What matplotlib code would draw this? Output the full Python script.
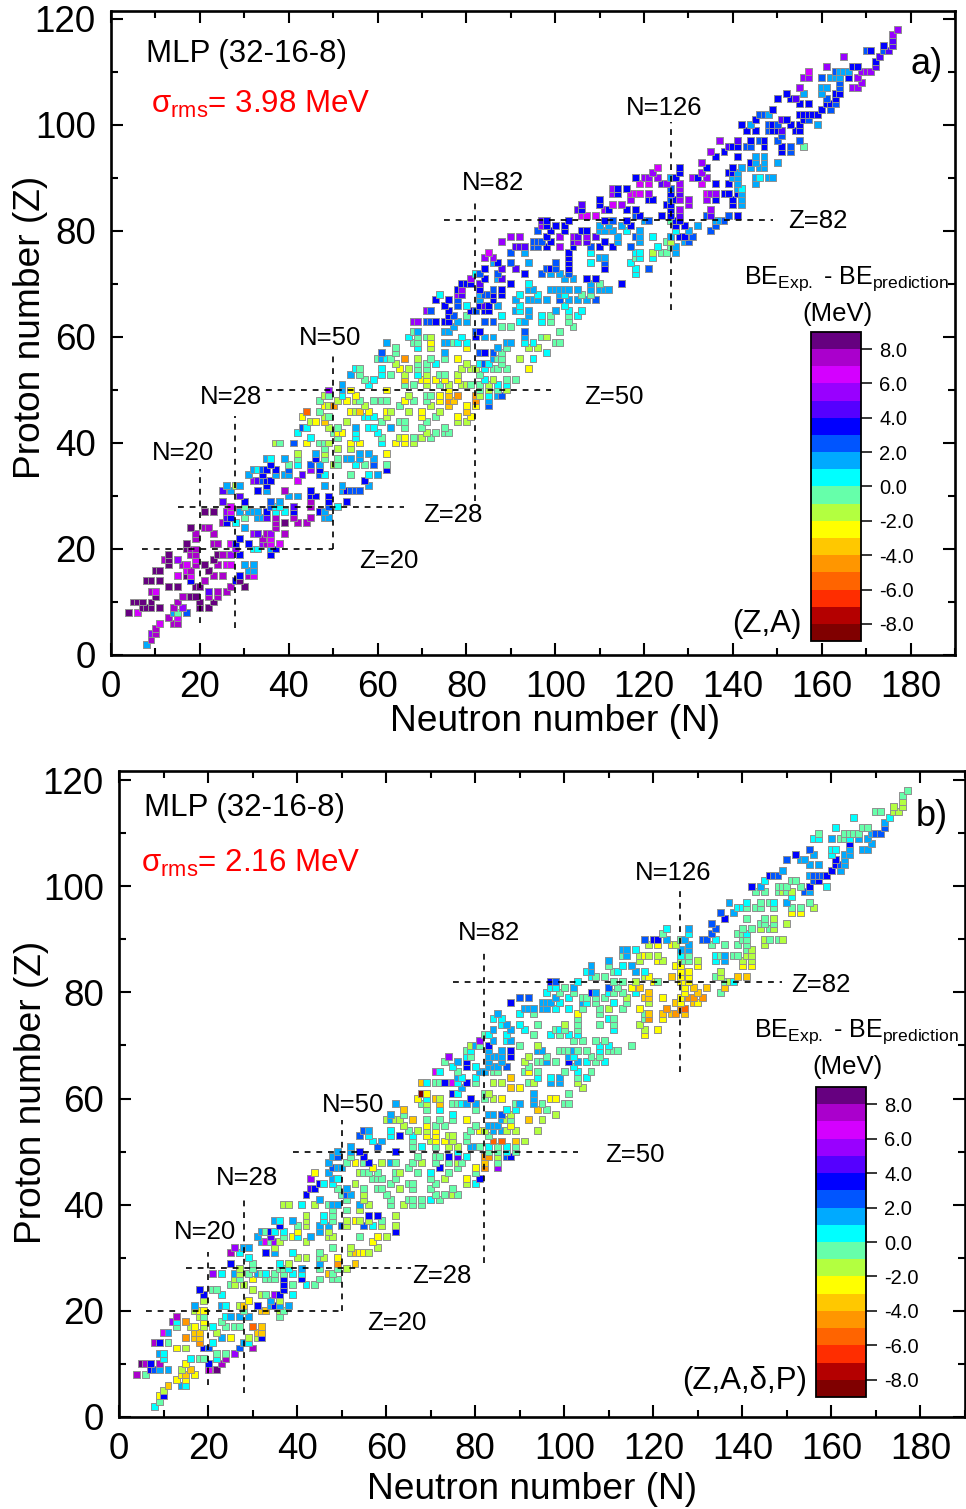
import matplotlib as mpl
mpl.use("Agg")
import matplotlib.pyplot as plt
from matplotlib.cm import ScalarMappable
from matplotlib.colors import BoundaryNorm, ListedColormap
from matplotlib.ticker import MultipleLocator

plt.rcParams['font.family'] = ['Liberation Sans', 'DejaVu Sans']
plt.rcParams['mathtext.fontset'] = 'custom'
plt.rcParams['mathtext.rm'] = 'Liberation Sans'
plt.rcParams['mathtext.it'] = 'Liberation Sans'
plt.rcParams['axes.unicode_minus'] = False

# neutron numbers of the plotted nuclei, one list per proton number
N_by_Z = {
    2: [8], 3: [9], 4: [9, 10], 5: [10], 6: [11, 14, 15], 7: [13, 15], 8: [4, 6, 14, 15, 17],
    9: [7, 8, 9, 11, 14, 16, 20, 22], 10: [5, 6, 7, 9, 15, 20, 23], 11: [10, 16, 18, 19, 22, 24],
    12: [9, 10, 22, 24, 26], 13: [13, 15, 19, 20, 27, 30], 14: [8, 9, 11, 18, 21, 28, 29],
    15: [15, 17, 18, 23, 25, 29, 31, 32], 16: [10, 11, 17, 18, 22, 31, 32],
    17: [13, 16, 17, 19, 21, 24, 26, 27, 30, 32], 18: [12, 13, 15, 19, 23],
    19: [13, 18, 19, 24, 25, 27, 29, 36], 20: [17, 18, 19, 28, 32, 33, 36, 37],
    21: [17, 23, 24, 27, 28, 31, 34, 35, 36, 38], 22: [19, 29, 34, 36],
    23: [19, 23, 32, 33, 35, 36, 39], 24: [18, 21, 22, 30, 37], 25: [25, 26, 28, 37, 39, 42, 44],
    26: [26, 27, 30, 33, 34, 35, 37, 41, 45, 48, 49],
    27: [21, 23, 26, 27, 29, 31, 32, 33, 35, 37, 39, 41, 47, 48],
    28: [27, 30, 36, 37, 38, 41, 45, 49, 51], 29: [25, 30, 36, 38, 45, 49, 53],
    30: [29, 40, 42, 45, 46, 49], 31: [25, 27, 33, 35, 39, 45, 52, 53, 54, 55, 56],
    32: [26, 28, 29, 35, 48, 52, 58], 33: [32, 33, 34, 35, 36, 42, 57],
    34: [31, 34, 37, 39, 40, 43, 47, 48, 54, 58, 60], 35: [32, 33, 34, 35, 37, 40, 45, 47, 62],
    36: [36, 40, 42, 45, 47, 50, 51, 55, 57, 59, 62], 37: [35, 36, 39, 42, 46, 48, 51, 53, 54, 56, 59],
    38: [42, 46, 48, 56, 58, 62], 39: [48, 51, 54], 40: [37, 38, 41, 44, 47, 48, 49, 54, 56, 61, 64, 66, 68],
    41: [45, 51, 55, 61, 65, 66, 68, 70, 72], 42: [42, 50, 51, 52, 55, 60, 71, 73, 75, 76],
    43: [43, 44, 49, 51, 55, 58, 59, 63, 66, 70, 75], 44: [45, 46, 48, 53, 61, 65, 66, 71, 78, 80],
    45: [43, 48, 49, 57, 58, 59, 62, 70, 73, 78, 81], 46: [44, 47, 54, 55, 56, 58, 62, 63, 67, 70, 74, 80],
    47: [48, 49, 50, 57, 65, 72, 76, 80, 82, 85],
    48: [47, 51, 53, 55, 56, 59, 61, 62, 66, 68, 71, 74, 76, 77, 82, 85],
    49: [48, 49, 52, 55, 67, 71, 72, 74, 76, 78, 82, 83, 85, 87, 88], 50: [49, 52, 54, 62, 76, 83, 85, 87, 89],
    51: [52, 58, 66, 68, 71, 74, 76, 79, 80, 81, 83, 85, 87, 89],
    52: [57, 59, 66, 70, 71, 73, 75, 78, 84, 86, 89, 91], 53: [54, 56, 61, 63, 66, 69, 71, 74, 75, 78, 83],
    54: [55, 56, 61, 65, 67, 69, 71, 79, 81, 82, 84, 86, 87, 89, 94], 55: [64, 69, 71, 73, 80, 83, 84, 85, 88],
    56: [60, 61, 62, 63, 66, 69, 72, 75, 78, 86, 87, 88, 92, 95], 57: [61, 64, 75, 83, 84, 86, 88, 98],
    58: [64, 69, 72, 80, 87, 89, 94, 96], 59: [62, 68, 69, 72, 75, 76, 77, 78, 80, 89, 90, 93, 95, 100, 101],
    60: [67, 69, 71, 72, 79, 82, 84, 86, 93, 97, 98], 61: [68, 69, 75, 76, 82, 83, 93, 101],
    62: [77, 88, 90, 104], 63: [68, 69, 71, 72, 73, 75, 76, 78, 80, 84, 86, 92, 93, 97, 99, 103],
    64: [76, 77, 80, 88, 94, 97, 99, 103, 105], 65: [71, 72, 76, 81, 82, 84, 85, 91, 92, 94, 100, 103, 106],
    66: [75, 78, 80, 83, 84, 85, 87, 92, 102],
    67: [73, 76, 78, 83, 86, 91, 94, 95, 96, 98, 101, 103, 105, 107, 109],
    68: [74, 78, 79, 83, 84, 85, 86, 88, 92, 96, 101, 102, 106, 108],
    69: [78, 79, 83, 86, 88, 94, 95, 99, 100, 101, 102, 103, 105, 108, 110, 111, 112],
    70: [79, 80, 81, 83, 90, 94, 108, 110, 115], 71: [81, 84, 87, 88, 102, 104, 107, 109],
    72: [82, 83, 87, 93, 97, 99, 101, 103, 118], 73: [84, 88, 91, 98, 99, 100, 103, 111, 118, 121],
    74: [86, 87, 90, 94, 100, 103, 108, 111, 117], 75: [84, 86, 103, 110, 111, 118, 119, 122],
    76: [85, 90, 93, 103, 108, 118, 119, 122, 124, 125, 127],
    77: [91, 92, 93, 95, 96, 98, 101, 104, 108, 110, 113, 117, 123, 126, 127],
    78: [88, 95, 96, 97, 99, 104, 105, 107, 111, 114, 119, 125, 126, 129, 130],
    79: [90, 92, 98, 101, 104, 105, 107, 109, 114, 118, 119, 122, 126, 128, 129, 131],
    80: [96, 99, 102, 106, 107, 110, 111, 113, 116, 119, 127, 130, 135],
    81: [97, 98, 100, 102, 110, 112, 115, 117, 127, 129, 132, 136],
    82: [97, 98, 103, 111, 113, 116, 120, 121, 126, 127, 128, 136, 137, 138],
    83: [106, 107, 109, 118, 119, 124, 126, 128, 134, 135, 139, 141],
    84: [105, 106, 111, 112, 116, 118, 126, 128, 135], 85: [106, 110, 113, 115, 125, 126, 130, 140, 142],
    86: [110, 117, 121, 122, 126, 127, 128, 130, 134, 136, 140, 142],
    87: [113, 114, 117, 118, 119, 121, 126, 128, 134, 135, 136, 138, 139, 141, 142],
    88: [113, 114, 116, 126, 128, 141, 142], 89: [119, 121, 124, 125, 128, 133, 136, 139, 141, 145],
    90: [118, 120, 121, 123, 126, 127, 131, 132, 134, 140, 141, 145, 146, 148, 149],
    91: [122, 128, 133, 139, 140, 141], 92: [123, 128, 134, 140, 142, 144, 146, 147],
    93: [133, 144, 145, 147, 150], 94: [136, 141, 145, 147], 95: [135, 138, 151, 153],
    96: [139, 140, 141, 143, 144, 147, 151, 153, 156], 97: [137, 141, 144, 146, 147, 150, 155], 98: [151],
    99: [143, 145, 148, 149, 150, 151, 154, 155], 100: [142, 144, 148, 149, 150, 153, 155, 159],
    101: [145, 151, 152, 156, 157], 102: [146, 147, 148, 155, 156, 157, 158, 159], 103: [149, 160, 162],
    104: [155, 157, 161, 162, 163], 105: [150, 153, 154, 161, 163], 106: [152, 156, 160, 163, 164],
    107: [155, 160, 161, 164, 167, 168], 108: [164, 169], 109: [156, 157, 160, 162, 163, 164, 166, 168],
    110: [157, 163, 164, 165, 166, 169, 170, 171], 111: [161, 167, 168, 172], 112: [172], 113: [165, 173],
    114: [170, 171, 174, 175], 115: [174, 176], 116: [176], 117: [176], 118: [177],
}

# BE_exp - BE_prediction (MeV), read as the colour band each square falls in
BE_a_by_Z = {
    2: [1], 3: [7], 4: [5, 7], 5: [7], 6: [6, 7, 7], 7: [7, 6], 8: [8, 6, 1, -1, 2],
    9: [8, 8, 8, 8, 7, 5, 8, 8], 10: [8, 8, 8, 8, 7, 8, 8], 11: [8, 7, 8, 8, 7, 7],
    12: [7, 6, 4, 7, 7], 13: [8, 8, 8, 8, 7, 8], 14: [8, 8, 8, 3, 7, 3, 8],
    15: [6, 8, 6, 7, 7, 3, 7, 6], 16: [8, 8, 6, 7, 8, 1, 1],
    17: [8, 7, 6, 7, 8, 7, 6, 6, 1, 1], 18: [7, 8, 5, 6, 8],
    19: [8, 7, 7, 8, 7, 5, 3, 3], 20: [8, 7, 7, 5, 0, 0, 1, 3],
    21: [8, 7, 7, 6, 3, 3, 5, 7, 6, 6], 22: [7, 3, 7, 6],
    23: [7, 7, 5, 4, 7, 5, 7], 24: [8, 7, 7, 1, 7], 25: [7, 3, 0, 7, 8, 7, 7],
    26: [4, 3, -1, 1, 1, 4, 7, 7, 7, 1, 1],
    27: [8, 8, 5, 6, 1, 1, 1, 1, 3, 0, 0, 3, 3, 1],
    28: [6, -1, 2, 0, 0, 4, 7, 2, 0], 29: [4, 3, 2, 1, 7, 3, 3],
    30: [4, 1, 1, 3, 3, 3], 31: [4, 1, 3, 1, 7, 3, 1, 3, 2, 2, 2],
    32: [1, -2, 1, 3, 1, 1, 1], 33: [5, 4, 2, 3, 3, 6, 3],
    34: [1, 3, 1, 1, 1, 4, 2, 0, -1, 0, 1], 35: [1, 0, 2, 3, 3, 2, 5, 3, 3],
    36: [3, -1, 0, 2, 1, -2, -1, 0, -1, 2, -1], 37: [1, 0, 1, -1, 3, -1, -1, 1, 1, 1, 1],
    38: [-2, 1, -2, 1, 1, -3], 39: [-1, -2, -2], 40: [-2, -1, 2, -3, -1, -1, -2, -3, -3, 0, -3, -3, -2],
    41: [0, -1, 0, -1, -2, -3, -1, -2, -1], 42: [0, -1, -3, -3, 0, 0, -2, -1, -1, -1],
    43: [2, 0, -2, -1, 1, 0, 0, 1, -1, -1, -1], 44: [-2, -3, -4, -2, -1, -1, -1, -1, -2, -2],
    45: [-3, -2, -1, 0, 0, 0, -2, -3, -1, -3, -3], 46: [-6, -1, -3, -2, -4, -3, -3, -2, -2, -3, -2, -4],
    47: [-3, -2, -5, -2, -1, -2, -4, -3, -3, 2],
    48: [-1, -2, -3, -2, -1, -1, -1, -1, -3, -1, -1, -3, -5, -4, -5, 1],
    49: [-2, -1, 0, -3, -2, -1, -1, -3, -4, -5, -5, -2, 0, 1, 2], 50: [5, 1, -3, -3, -3, -1, -2, -1, -2],
    51: [1, 0, -1, -1, -2, -1, -2, -2, -2, -1, -1, -2, 0, 0],
    52: [-1, 0, -4, -3, -3, -3, -3, -3, 0, -2, -1, -1], 53: [1, -1, 0, -1, -2, 0, -2, -1, -1, -2, -1],
    54: [0, -1, 0, -3, -2, -1, -1, -2, -2, -2, 0, -1, -1, -1, -3], 55: [-2, -1, -1, 0, -2, 0, 2, 0, -1],
    56: [-1, 1, 0, -1, -5, -2, -1, -1, -3, 1, -1, -1, -2, 0], 57: [2, -1, 1, 2, 3, 2, -1, 0],
    58: [-1, 0, -2, -3, 1, -1, -2, -2], 59: [1, -1, -1, -3, 1, 1, -1, 0, 0, 1, 1, 0, 0, -1, -1],
    60: [0, -1, -1, -2, 0, 3, 1, 1, 1, -1, -2], 61: [-1, 1, 1, 1, 2, 3, 2, -1],
    62: [1, -1, -1, -1], 63: [5, 5, 2, 2, 3, 3, 3, 1, 1, 2, 2, 0, 1, 0, -1, -1],
    64: [3, 2, -1, 0, 1, 0, -1, -1, 0], 65: [5, 2, 3, 3, 2, 3, 3, 1, 0, 1, 1, 0, 0],
    66: [3, 2, 0, 3, 4, 3, 1, 0, 0],
    67: [3, 3, 2, 1, 3, 1, 1, 1, 1, 1, 2, 1, 1, 1, 2],
    68: [0, 5, 4, 1, 2, 2, 3, 3, 0, 0, 1, 0, -1, -1],
    69: [3, 5, 3, 2, 3, 1, 1, 1, 1, 1, 1, 1, 1, 1, 1, 1, 1],
    70: [3, 3, 3, 4, 3, 0, 1, -1, 3], 71: [5, 3, 1, 4, 1, 1, 3, 3],
    72: [0, 2, 2, 3, 2, 1, 1, 2, 0], 73: [3, 4, 4, 2, 3, 2, 3, 3, 0, 2],
    74: [1, 3, 2, 1, 2, 3, 0, 2, 0], 75: [5, 5, 3, 1, 1, -1, 0, 0],
    76: [6, 2, 1, 3, 0, 0, 0, -2, -1, -1, 1],
    77: [4, 4, 4, 2, 2, 3, 5, 3, 2, 3, 3, 2, 0, -1, 1],
    78: [5, 2, 2, 2, 3, 4, 5, 4, 3, 1, 1, -1, -2, 1, 2],
    79: [5, 5, 3, 5, 5, 4, 5, 4, 1, 2, 1, 0, 1, 3, 3, 2],
    80: [2, 3, 3, 3, 3, 1, 1, 1, 0, 1, 0, 1, 2],
    81: [5, 3, 3, 3, 1, 1, 1, 3, 3, 3, 1, 2],
    82: [4, 3, 3, 3, 2, 3, 1, 2, -1, 3, 3, 1, 1, 2],
    83: [6, 6, 6, 2, 3, 3, 3, 4, 2, 4, 2, 3],
    84: [4, 3, 5, 3, 3, 3, 3, 5, 5], 85: [4, 3, 6, 5, 3, 3, 5, 3, 1],
    86: [3, 5, 3, 3, 2, 3, 5, 5, 5, 3, 3, 1],
    87: [5, 3, 6, 6, 6, 5, 3, 4, 6, 5, 5, 3, 3, 3, 1],
    88: [5, 3, 3, 2, 5, 1, 0], 89: [6, 6, 4, 5, 5, 6, 3, 3, 1, 1],
    90: [3, 5, 5, 5, 1, 3, 5, 3, 5, 1, 1, 1, 0, 1, 1],
    91: [5, 3, 5, 3, 3, 1], 92: [6, 3, 3, 3, 1, 1, 1, 1],
    93: [5, 3, 1, 1, 1], 94: [3, 3, 1, 1], 95: [5, 3, 3, 2],
    96: [4, 3, 3, 2, 2, 3, 3, 2, -1], 97: [5, 4, 3, 2, 3, 2, 2], 98: [2],
    99: [3, 3, 2, 3, 3, 4, 3, 3], 100: [3, 1, 2, 3, 2, 3, 3, 1],
    101: [3, 4, 3, 3, 2], 102: [2, 2, 1, 3, 3, 3, 3, 3], 103: [3, 3, 2],
    104: [3, 3, 3, 3, 2], 105: [3, 3, 4, 2, 3], 106: [3, 1, 1, 3, 3],
    107: [5, 1, 1, 2, 5, 5], 108: [2, 5], 109: [5, 5, 2, 1, 1, 1, 3, 5],
    110: [6, 2, 1, 1, 1, 5, 5, 5], 111: [5, 3, 3, 4], 112: [3], 113: [5, 4],
    114: [2, 3, 2, 4], 115: [3, 4], 116: [4], 117: [5], 118: [5],
}

BE_b_by_Z = {
    2: [0], 3: [-1], 4: [-3, 3], 5: [-2], 6: [-4, 1, 0], 7: [-3, -3], 8: [7, -1, -3, -4, -3],
    9: [3, 2, 1, 1, -2, -4, 6, 8], 10: [8, 7, 3, 7, -3, 3, 7], 11: [0, 0, -1, -1, 0, 7],
    12: [1, 0, -1, -1, 5], 13: [-3, -2, 3, 2, 2, 7], 14: [7, 3, -1, -5, 0, 1, 0],
    15: [-5, -4, -4, 1, -3, -2, -2, 3], 16: [6, 1, -4, -4, -2, -4, -4],
    17: [-1, -2, -3, -2, 0, -1, -1, -1, -6, -4], 18: [5, 0, -5, -3, -1],
    19: [7, -2, -1, 0, 1, 1, 1, -1], 20: [-2, -3, -3, -1, -4, -4, -2, -1],
    21: [1, 1, 0, -2, -4, 3, 1, 3, 1, 1], 22: [-2, -3, 1, -2],
    23: [3, 0, -2, -1, 5, 3, 0], 24: [3, -1, -1, -2, 3], 25: [-1, -2, -2, 3, -1, 0, -1],
    26: [-2, -1, -3, -1, -1, -1, 3, 3, -1, -1, -1],
    27: [5, 0, 1, -2, -1, 1, -1, 0, -1, -1, 0, 0, -4, -1],
    28: [-2, -1, -1, -1, 0, 1, -1, -1, -2], 29: [3, -1, 0, -2, 1, -5, -4],
    30: [0, -2, -2, -1, -2, -3], 31: [7, 0, 3, 1, 0, -1, -2, -4, -3, -3, -2],
    32: [5, 1, 1, -2, -1, -2, -2], 33: [1, 6, -1, 5, -2, -2, -3],
    34: [1, 4, -1, -3, 0, 1, -2, -2, -1, -3, -2], 35: [1, -1, 3, 0, 0, -3, 1, -2, 3],
    36: [3, -1, -2, 1, 1, 2, -2, 2, 0, -2, -2], 37: [1, 0, 1, -2, 0, -1, -2, -3, -2, -2, -1],
    38: [-2, 0, -1, 3, 3, -2], 39: [-1, -1, -2], 40: [-2, -2, 0, -2, -1, 1, 1, 1, -2, -1, -2, -1, -1],
    41: [1, -1, -2, -1, -1, -1, -1, 0, -1], 42: [3, -1, 2, 1, -2, -1, -1, -1, -2, -1],
    43: [4, 3, -1, 1, -1, -1, -1, -2, -1, -1, -1], 44: [3, 0, 0, -2, -1, -1, -1, -1, -2, 0],
    45: [5, 1, 0, -1, -1, -1, -1, -1, -2, -3, 3], 46: [-3, 1, -2, -1, -1, -1, -1, -2, -1, 0, -1, -1],
    47: [2, 1, 1, -3, -1, 3, -1, -3, -5, 5],
    48: [1, -1, -3, -1, 3, -2, 1, -1, -1, -2, -1, -1, -2, -1, -4, -1],
    49: [1, 2, -1, 3, -1, -1, -1, 3, 4, 0, -5, -5, -2, 2, 3], 50: [1, 1, 3, 3, 0, -1, -1, 0, -1],
    51: [1, 2, -1, 0, -1, -2, -2, 1, 1, -1, 0, -1, 0, -1],
    52: [0, 1, -1, -2, -3, -3, -2, -1, -6, -6, -4, -2], 53: [2, 0, 0, 3, 0, -3, -3, -2, -2, -1, -1],
    54: [2, 1, 0, -1, -2, -2, -3, -1, -3, -2, 1, 1, -2, -2, -2], 55: [-2, -3, -1, -1, -1, 1, 1, 1, -3],
    56: [-2, 1, -2, -2, -4, -1, -1, -1, -3, 1, -2, -1, -4, -2], 57: [1, -1, 0, 1, 1, 2, -2, -2],
    58: [-4, -1, 0, -1, 0, 0, -4, -1], 59: [1, -1, -2, -4, -1, -1, 0, 1, 1, -1, 1, 1, -1, -1, -1],
    60: [-3, 0, -4, -2, 3, -1, -2, -3, 1, -3, -3], 61: [-9, -3, 3, 0, -1, -2, 1, -1],
    62: [1, -4, -3, -2], 63: [-4, 0, -1, -1, 3, 6, 0, 3, -1, -2, -2, -1, -2, 1, 1, -2],
    64: [1, 0, 0, -4, 0, 0, 1, -1, 0], 65: [6, 0, -1, 1, 1, -1, -1, -1, -3, -1, -1, 0, -1],
    66: [0, 3, 0, 1, 1, 1, 2, -1, 0],
    67: [-1, 1, 3, 1, 1, -2, -1, -1, 1, -1, 3, 1, 0, -1, 0],
    68: [5, 0, -1, 1, 1, 1, 1, 3, -2, -1, 1, 0, -1, -1],
    69: [-1, 0, 1, 1, 3, 1, 1, -1, -1, -1, 1, -1, -1, 0, -1, -1, -1],
    70: [-2, 1, -1, 3, -1, -2, 0, 0, -1], 71: [5, 1, 0, 1, -1, -1, -1, -1],
    72: [-1, 0, 0, -1, 0, -1, 0, 0, -3], 73: [1, 1, 0, -1, 0, -1, -1, 0, -2, -3],
    74: [0, 1, 0, -1, -2, -1, -1, -1, -2], 75: [0, 0, -1, 0, -1, -1, -5, -3],
    76: [1, 0, -1, -3, -1, -1, -4, -4, -4, -5, -4],
    77: [1, 1, 1, 1, 1, 0, 0, -1, -1, -2, -1, -3, -5, -5, -6],
    78: [3, 1, 1, 1, 0, 1, 0, -1, 0, -1, -2, -4, -3, -4, -3],
    79: [2, 2, 1, 0, -1, -1, -1, -1, -2, -4, -4, -3, -3, -5, -5, -5],
    80: [0, -1, -1, 3, 1, 0, -1, -1, 0, -4, -3, -4, -1],
    81: [0, 0, -1, 1, 2, -1, -3, -4, -3, -4, -4, -4],
    82: [3, 2, 0, -1, -1, -2, -3, -1, -3, -3, -3, -1, -2, 0],
    83: [0, -1, -1, -2, -3, -4, -3, -3, -1, -2, -4, -4],
    84: [0, 1, -1, 0, 1, 0, -3, -3, -2], 85: [1, -1, 0, 1, -3, -3, -3, -3, -3],
    86: [1, -2, -3, -2, -2, -1, -1, -2, 0, 1, -2, -2],
    87: [-1, 1, -2, -3, -2, -2, 0, -1, 0, -1, 1, -1, -1, -2, -2],
    88: [1, 1, 0, 1, 1, -1, -2], 89: [-2, -3, -3, -2, 1, -1, -1, -1, -1, -2],
    90: [2, 3, 3, 1, -1, 1, 2, 2, 0, -1, -1, -2, -1, -1, -2],
    91: [-1, 0, 2, -1, -1, 0], 92: [0, 1, 2, -1, -1, -2, -1, -2],
    93: [2, -1, -1, -1, -2], 94: [3, -1, -1, -2], 95: [2, 1, -3, -3],
    96: [0, 0, -1, -1, -1, -1, -1, -1, -2], 97: [1, 0, -1, -1, 0, 1, -1], 98: [0],
    99: [-1, -1, -1, -2, -1, -2, 2, 1], 100: [3, 1, -1, -1, -1, -1, 3, 0],
    101: [0, -1, -1, 2, 3], 102: [3, 2, 2, 1, 2, 2, 2, 3], 103: [1, 3, 1],
    104: [1, 1, 3, 2, 1], 105: [2, 1, 1, 3, 1], 106: [3, 1, 0, 1, 1],
    107: [2, 0, 0, 1, 1, 1], 108: [3, 1], 109: [0, 0, 1, -1, -1, 0, 1, 1],
    110: [-1, -1, -1, -1, -1, 1, 2, 2], 111: [0, -1, -1, 2], 112: [1], 113: [0, 0],
    114: [-1, -1, -2, -2], 115: [-2, -2], 116: [-2], 117: [-1], 118: [-1],
}

band_colors = ['#800000', '#B40000', '#FF2D00', '#FF6400', '#FF9600', '#FFC800', '#FFFF00', '#B3FF40', '#66FFAA',
               '#00FFFF', '#00AAFF', '#0055FF', '#0000FF', '#5500FF', '#9900FF', '#D400FF', '#AA00CC', '#660080']
band_edges = list(range(-9, 10))
bar_ticks = [-8, -6, -4, -2, 0, 2, 4, 6, 8]

W, H = 966, 1509
cmap = ListedColormap(band_colors)
norm = BoundaryNorm(band_edges, cmap.N)


def flatten(by_z, be_by_z):
    xs, ys, cs = [], [], []
    for z, ns in by_z.items():
        if len(ns) != len(be_by_z[z]):
            raise ValueError("row Z=%d: %d vs %d" % (z, len(ns), len(be_by_z[z])))
        for n, be in zip(ns, be_by_z[z]):
            xs.append(n)
            ys.append(z)
            cs.append(be + 0.5)
    return xs, ys, cs


def box(left, top, right, bottom):
    return [left / W, 1 - bottom / H, (right - left) / W, (bottom - top) / H]


def label(x, y, s, size=18.5, color='k', **kw):
    fig.text(x / W, 1 - (y + 2) / H, s, fontsize=size, color=color, ha='center', va='center', **kw)


def panel(rect, be_by_z, vlines, hlines, ylim, xlab, ylab):
    ax = fig.add_axes(box(*rect))
    xs, ys, cs = flatten(N_by_Z, be_by_z)
    ax.scatter(xs, ys, c=cs, cmap=cmap, norm=norm, marker='s', s=25, linewidths=0.7, edgecolors='#909090', zorder=2)
    for n, z0, z1 in vlines:
        ax.plot([n, n], [z0, z1], color='k', lw=1.2, ls=(0, (3.5, 3.5)), zorder=3)
    for z, n0, n1 in hlines:
        ax.plot([n0, n1], [z, z], color='k', lw=1.2, ls=(0, (3.5, 3.5)), zorder=3)
    ax.set_xlim(0, 190)
    ax.set_ylim(0, ylim)
    ax.xaxis.set_major_locator(MultipleLocator(20))
    ax.xaxis.set_minor_locator(MultipleLocator(10))
    ax.yaxis.set_major_locator(MultipleLocator(20))
    ax.yaxis.set_minor_locator(MultipleLocator(10))
    ax.tick_params(which='major', direction='in', top=True, right=True, length=8.5, width=1.5, labelsize=26.5, pad=11)
    ax.tick_params(which='minor', direction='in', top=True, right=True, length=5, width=1.5)
    for s in ax.spines.values():
        s.set_linewidth(1.9)
    ax.set_xlabel('Neutron number (N)', fontsize=26.7, va='center')
    ax.set_ylabel('Proton number (Z)', fontsize=26.7, va='center')
    ax.xaxis.set_label_coords(*xlab)
    ax.yaxis.set_label_coords(*ylab)
    return ax


def bar(rect):
    cax = fig.add_axes(box(*rect))
    cb = fig.colorbar(ScalarMappable(norm=norm, cmap=cmap), cax=cax, ticks=bar_ticks, format='%.1f',
                      spacing='proportional', drawedges=False)
    cb.outline.set_linewidth(1.3)
    cb.ax.minorticks_off()
    cb.ax.tick_params(direction='out', length=8, width=1.1, labelsize=14.5, pad=5)


fig = plt.figure(figsize=(W / 100, H / 100), dpi=100)

panel((111, 11, 955, 655), BE_a_by_Z,
      [(20, 6, 35), (28, 5, 45), (50, 20, 57), (82, 29, 86), (126, 65, 100.5)],
      [(20, 7, 50), (28, 15, 66), (50, 35, 99), (82, 75, 149)], 121.5, (0.526, -0.103), (-0.095, 0.508))
bar((811, 332, 861, 641))

panel((119, 771, 965, 1417), BE_b_by_Z,
      [(20, 6, 31), (28, 4.5, 41), (50, 20, 56), (82, 29, 88), (126, 65, 99)],
      [(20, 6, 50), (28, 15, 65.5), (50, 39, 103), (82, 75, 149)], 121.7, (0.488, -0.113), (-0.104, 0.503))
bar((816, 1087, 866, 1397))

label(247, 52, 'MLP (32-16-8)', 22.5)
label(261, 102, r'$\mathrm{σ_{rms}}$= 3.98 MeV', 22.5, 'red')
label(927, 63, 'a)', 26)
label(664, 106, 'N=126')
label(493, 181, 'N=82')
label(818, 219, 'Z=82')
label(846, 277, r'$\mathrm{BE_{Exp.}}$ - $\mathrm{BE_{prediction}}$', 18)
label(838, 312, '(MeV)')
label(330, 336, 'N=50')
label(231, 395, 'N=28')
label(614, 395, 'Z=50')
label(183, 451, 'N=20')
label(453, 513, 'Z=28')
label(389, 559, 'Z=20')
label(767, 622, '(Z,A)', 22.5)

label(244, 806, 'MLP (32-16-8)', 22.5)
label(251, 861, r'$\mathrm{σ_{rms}}$= 2.16 MeV', 22.5, 'red')
label(932, 815, 'b)', 26)
label(673, 871, 'N=126')
label(489, 931, 'N=82')
label(821, 983, 'Z=82')
label(856, 1030, r'$\mathrm{BE_{Exp.}}$ - $\mathrm{BE_{prediction}}$', 18)
label(847, 1065, '(MeV)')
label(353, 1103, 'N=50')
label(635, 1153, 'Z=50')
label(247, 1176, 'N=28')
label(205, 1230, 'N=20')
label(442, 1274, 'Z=28')
label(397, 1321, 'Z=20')
label(745, 1379, '(Z,A,δ,P)', 22.5)

fig.savefig('out.png', dpi=100)
